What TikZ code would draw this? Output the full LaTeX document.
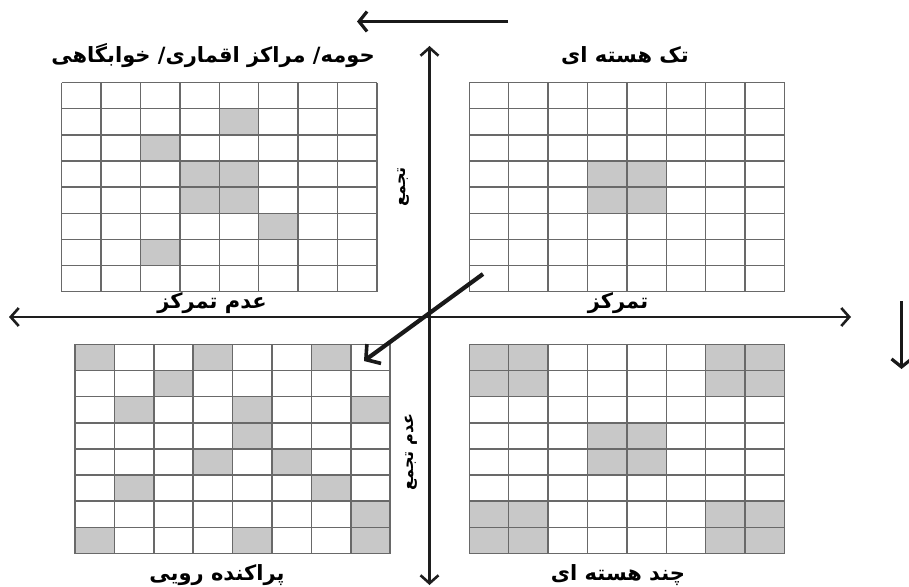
\documentclass[tikz,border=0pt]{standalone}
\usepackage{fontspec}
\newfontfamily\farsi[Script=Arabic]{DejaVu Sans}
\TeXXeTstate=1
\usetikzlibrary{arrows.meta,positioning}
\definecolor{cellgray}{RGB}{200,200,200}
\definecolor{gridgray}{RGB}{105,105,105}
\definecolor{axisgray}{RGB}{30,30,30}

% one 8x8 block: left, top, shaded cells (col/row)
\newcommand{\blockgrid}[3]{%
  \foreach \c/\r in {#3}
    \fill[cellgray] ({#1+\c*39.4},{#2+\r*26.15}) rectangle ++(39.4,26.15);
  \foreach \i in {0,...,8} {
    \draw[gridline] ({#1+\i*39.4},#2) -- ++(0,209.2);
    \draw[gridline] (#1,{#2+\i*26.15}) -- ++(315.2,0);
  }
}

\begin{document}
\begin{tikzpicture}[x=1pt,y=-1pt,
    gridline/.style={gridgray, line width=1.5pt},
    axis/.style={axisgray, line width=2.6pt,
      {Straight Barb[length=8pt,width=18pt,line width=2.6pt]}-{Straight Barb[length=8pt,width=18pt,line width=2.6pt]}},
    bigarrow/.style={black!90, line width=4.2pt,
      -{Straight Barb[length=10pt,width=24pt,line width=3.6pt]}},
    sidearrow/.style={black!90, line width=3.2pt,
      -{Straight Barb[length=8pt,width=20pt,line width=3.2pt]}},
    label/.style={font=\farsi\bfseries\fontsize{21}{24}\selectfont, inner sep=1pt},
    sidelabel/.style={font=\farsi\bfseries\fontsize{16}{19}\selectfont, inner sep=1pt, rotate=90}]
  \useasboundingbox (0,0) rectangle (909,586);
  % blocks
  \blockgrid{61.7}{82.5}{4/1,2/2,3/3,4/3,3/4,4/4,5/5,2/6}
  \blockgrid{469.3}{82.5}{3/3,4/3,3/4,4/4}
  \blockgrid{75}{344.3}{0/0,3/0,6/0,2/1,1/2,4/2,7/2,4/3,3/4,5/4,1/5,6/5,7/6,0/7,4/7,7/7}
  \blockgrid{469.3}{344.3}{0/0,1/0,6/0,7/0,0/1,1/1,6/1,7/1,3/3,4/3,3/4,4/4,0/6,1/6,6/6,7/6,0/7,1/7,6/7,7/7}
  % axes
  \coordinate (ntop) at (429.5,46);
  \coordinate (nbot) at (429.5,585);
  \coordinate (west) at (9,317);
  \coordinate (east) at (851,317);
  \draw[axis] (nbot) -- (ntop);
  \draw[axis] (west) -- (east);
  % arrows
  \coordinate (dstart) at (483,274);
  \coordinate (dend) at (364,361);
  \draw[bigarrow] (dstart) -- (dend);
  \coordinate (tstart) at (508,21.5);
  \coordinate (tend) at (357,21.5);
  \draw[sidearrow] (tstart) -- (tend);
  \coordinate (rstart) at (901.5,301);
  \coordinate (rend) at (901.5,369);
  \draw[sidearrow] (rstart) -- (rend);
  % labels
  \node[label] (suburb) at (213,56) {\beginR حومه/ مراکز اقماری/ خوابگاهی\endR};
  \node[label] (mono) at (625,56) {\beginR تک هسته ای\endR};
  \node[label] (decent) at (212,303) {\beginR عدم تمرکز\endR};
  \node[label] (cent) at (618,303) {\beginR تمرکز\endR};
  \node[label] (sprawl) at (217,575) {\beginR پراکنده رویی\endR};
  \node[label] (multi) at (618,575) {\beginR چند هسته ای\endR};
  \node[sidelabel] (agg) at (404,187) {\beginR تجمع\endR};
  \node[sidelabel] (nonagg) at (411,452) {\beginR عدم تجمع\endR};
\end{tikzpicture}
\end{document}
